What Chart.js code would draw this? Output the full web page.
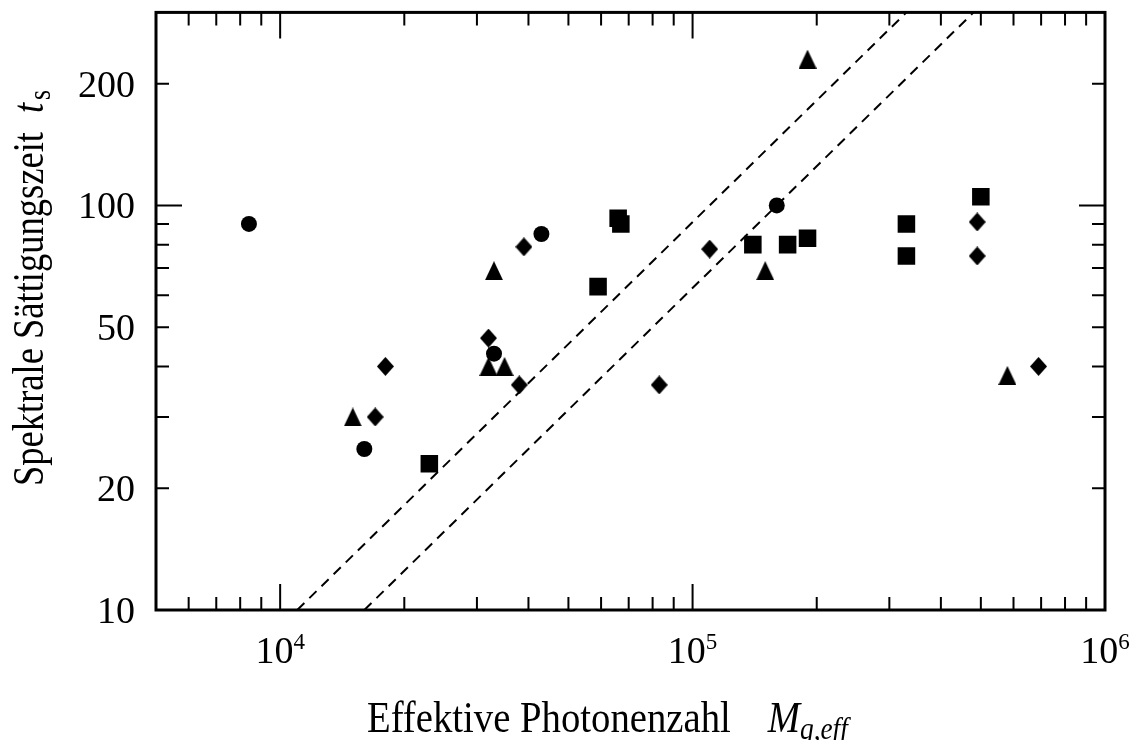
<!DOCTYPE html>
<html><head><meta charset="utf-8">
<script src="https://cdn.jsdelivr.net/npm/chart.js@4/dist/chart.umd.min.js"></script>
<style>html,body{margin:0;padding:0;background:#fff}#wrap{width:1137px;height:740px;position:relative}</style>
</head><body><div id="wrap"><canvas id="c"></canvas></div>
<script>
// ---- data (M_q,eff , t_s) ----
const circleM   = [8400, 16000, 33000, 43000, 160000];
const circleT   = [90, 25, 43, 85, 100];
const triangleM = [15000, 33000, 32000, 35000, 190000, 150000, 580000];
const triangleT = [30, 69, 40, 40, 230, 69, 38];
const diamondM  = [18000, 17000, 32000, 38000, 39000, 83000, 110000, 490000, 490000, 690000];
const diamondT  = [40, 30, 47, 36, 79, 36, 78, 91, 75, 40];
const squareM   = [23000, 59000, 66000, 67000, 140000, 170000, 190000, 330000, 330000, 500000];
const squareT   = [23, 63, 93, 90, 80, 80, 83, 90, 75, 105];
const line1M = [11000, 330000];
const line1T = [10, 300];
const line2M = [16000, 480000];
const line2T = [10, 300];

// ---- axes ----
const xMin = 5000, xMax = 1e6, yMin = 10, yMax = 300;
const xMajorTicks = [1e4, 1e5, 1e6];
const xMinorTicks = [6000, 7000, 8000, 9000, 20000, 30000, 40000, 50000, 60000, 70000, 80000, 90000,
                     200000, 300000, 400000, 500000, 600000, 700000, 800000, 900000];
const yMajorTicks = [10, 100];
const yMinorTicks = [20, 30, 40, 50, 60, 70, 80, 90, 200];
const xLabelValues = [1e4, 1e5, 1e6];
const xLabelBase = ['10', '10', '10'];
const xLabelExp = ['4', '5', '6'];
const yLabelValues = [10, 20, 50, 100, 200];
const yLabelTexts = ['10', '20', '50', '100', '200'];
const xTitle = 'Effektive Photonenzahl';
const xTitleSym = 'M';
const xTitleSub = 'q,eff';
const yTitle = 'Spektrale Sättigungszeit';
const yTitleSym = 't';
const yTitleSub = 's';

function toPts(xs, ys) { return xs.map((x, i) => ({x: x, y: ys[i]})); }

function makeTri(w, h) {
  const c = document.createElement('canvas'); c.width = w; c.height = h;
  const g = c.getContext('2d'); g.fillStyle = '#000';
  g.beginPath(); g.moveTo(w / 2, 0); g.lineTo(w, h); g.lineTo(0, h); g.closePath(); g.fill();
  return c;
}
function makeDia(w, h) {
  const c = document.createElement('canvas'); c.width = w; c.height = h;
  const g = c.getContext('2d'); g.fillStyle = '#000';
  g.beginPath(); g.moveTo(w / 2, 0); g.lineTo(w, h / 2); g.lineTo(w / 2, h); g.lineTo(0, h / 2); g.closePath(); g.fill();
  return c;
}
const triImg = makeTri(18, 19);
const diaImg = makeDia(17, 19);

const SERIF = '"Liberation Serif", "Times New Roman", serif';

function drawScaled(ctx, text, x, y, font, sx) {
  ctx.font = font;
  const w = ctx.measureText(text).width * sx;
  ctx.save();
  ctx.translate(x, y);
  ctx.scale(sx, 1);
  ctx.fillText(text, 0, 0);
  ctx.restore();
  return w;
}

const axesPlugin = {
  id: 'axesPlugin',
  afterDatasetsDraw(chart) {
    const ctx = chart.ctx;
    const a = chart.chartArea;
    const xs = chart.scales.x, ys = chart.scales.y;
    ctx.save();
    ctx.strokeStyle = '#000';
    ctx.fillStyle = '#000';
    // frame
    ctx.lineWidth = 3;
    ctx.strokeRect(a.left, a.top, a.right - a.left, a.bottom - a.top);
    // ticks (inward, on all four sides)
    ctx.lineWidth = 2;
    const majL = 26, minL = 13;
    function xt(v, L) {
      const p = xs.getPixelForValue(v);
      ctx.beginPath();
      ctx.moveTo(p, a.bottom); ctx.lineTo(p, a.bottom - L);
      ctx.moveTo(p, a.top); ctx.lineTo(p, a.top + L);
      ctx.stroke();
    }
    function yt(v, L) {
      const p = ys.getPixelForValue(v);
      ctx.beginPath();
      ctx.moveTo(a.left, p); ctx.lineTo(a.left + L, p);
      ctx.moveTo(a.right, p); ctx.lineTo(a.right - L, p);
      ctx.stroke();
    }
    xMajorTicks.forEach(v => xt(v, majL));
    xMinorTicks.forEach(v => xt(v, minL));
    yMajorTicks.forEach(v => yt(v, majL));
    yMinorTicks.forEach(v => yt(v, minL));

    // y tick labels
    ctx.font = '38px ' + SERIF;
    ctx.textAlign = 'right';
    ctx.textBaseline = 'alphabetic';
    yLabelValues.forEach((v, i) => {
      const p = ys.getPixelForValue(v);
      ctx.fillText(yLabelTexts[i], a.left - 21, p + 13);
    });
    // x tick labels with superscripts
    ctx.textAlign = 'left';
    xLabelValues.forEach((v, i) => {
      const p = xs.getPixelForValue(v);
      ctx.font = '38px ' + SERIF;
      const wb = ctx.measureText(xLabelBase[i]).width;
      ctx.font = '23px ' + SERIF;
      const we = ctx.measureText(xLabelExp[i]).width;
      const x0 = p - (wb + we) / 2;
      ctx.font = '38px ' + SERIF;
      ctx.fillText(xLabelBase[i], x0, a.bottom + 53);
      ctx.font = '23px ' + SERIF;
      ctx.fillText(xLabelExp[i], x0 + wb, a.bottom + 39);
    });

    // x title
    const SX = 0.88;
    const tx = a.left + 211, ty = a.bottom + 122;
    const w1 = drawScaled(ctx, xTitle, tx, ty, '44px ' + SERIF, SX);
    const mx = tx + w1 + 37;
    const wm = drawScaled(ctx, xTitleSym, mx, ty, 'italic 44px ' + SERIF, SX);
    drawScaled(ctx, xTitleSub, mx + wm, ty + 7, 'italic 31px ' + SERIF, SX);

    // y title (rotated)
    const SY = 0.83;
    ctx.save();
    ctx.translate(43, a.bottom - 124);
    ctx.rotate(-Math.PI / 2);
    const wy = drawScaled(ctx, yTitle, 0, 0, '44px ' + SERIF, SY);
    const sx = wy + 19;
    const wt = drawScaled(ctx, yTitleSym, sx, 0, 'italic 44px ' + SERIF, SY);
    drawScaled(ctx, yTitleSub, sx + wt + 3, 7, '31px ' + SERIF, SY);
    ctx.restore();

    ctx.restore();
  }
};

new Chart(document.getElementById('c'), {
  type: 'scatter',
  data: {
    datasets: [
      {label: 'line1', data: toPts(line1M, line1T), showLine: true, borderColor: '#000', borderWidth: 2,
       borderDash: [10, 7], pointRadius: 0, fill: false, clip: 0},
      {label: 'line2', data: toPts(line2M, line2T), showLine: true, borderColor: '#000', borderWidth: 2,
       borderDash: [10, 7], pointRadius: 0, fill: false, clip: 0},
      {label: 'circles', data: toPts(circleM, circleT), pointStyle: 'circle', pointRadius: 8,
       backgroundColor: '#000', borderColor: '#000', pointBorderWidth: 0},
      {label: 'triangles', data: toPts(triangleM, triangleT), pointStyle: triImg, pointRadius: 9,
       backgroundColor: '#000', borderColor: '#000'},
      {label: 'diamonds', data: toPts(diamondM, diamondT), pointStyle: diaImg, pointRadius: 9,
       backgroundColor: '#000', borderColor: '#000'},
      {label: 'squares', data: toPts(squareM, squareT), pointStyle: 'rect', pointRadius: 12.4,
       backgroundColor: '#000', borderColor: '#000', pointBorderWidth: 0}
    ]
  },
  options: {
    responsive: true, maintainAspectRatio: false, animation: false, events: [],
    layout: {padding: {left: 156, right: 32, top: 12, bottom: 130}},
    plugins: {legend: {display: false}, tooltip: {enabled: false}},
    scales: {
      x: {type: 'logarithmic', min: xMin, max: xMax, display: false},
      y: {type: 'logarithmic', min: yMin, max: yMax, display: false}
    }
  },
  plugins: [axesPlugin]
});
</script>
</body></html>
